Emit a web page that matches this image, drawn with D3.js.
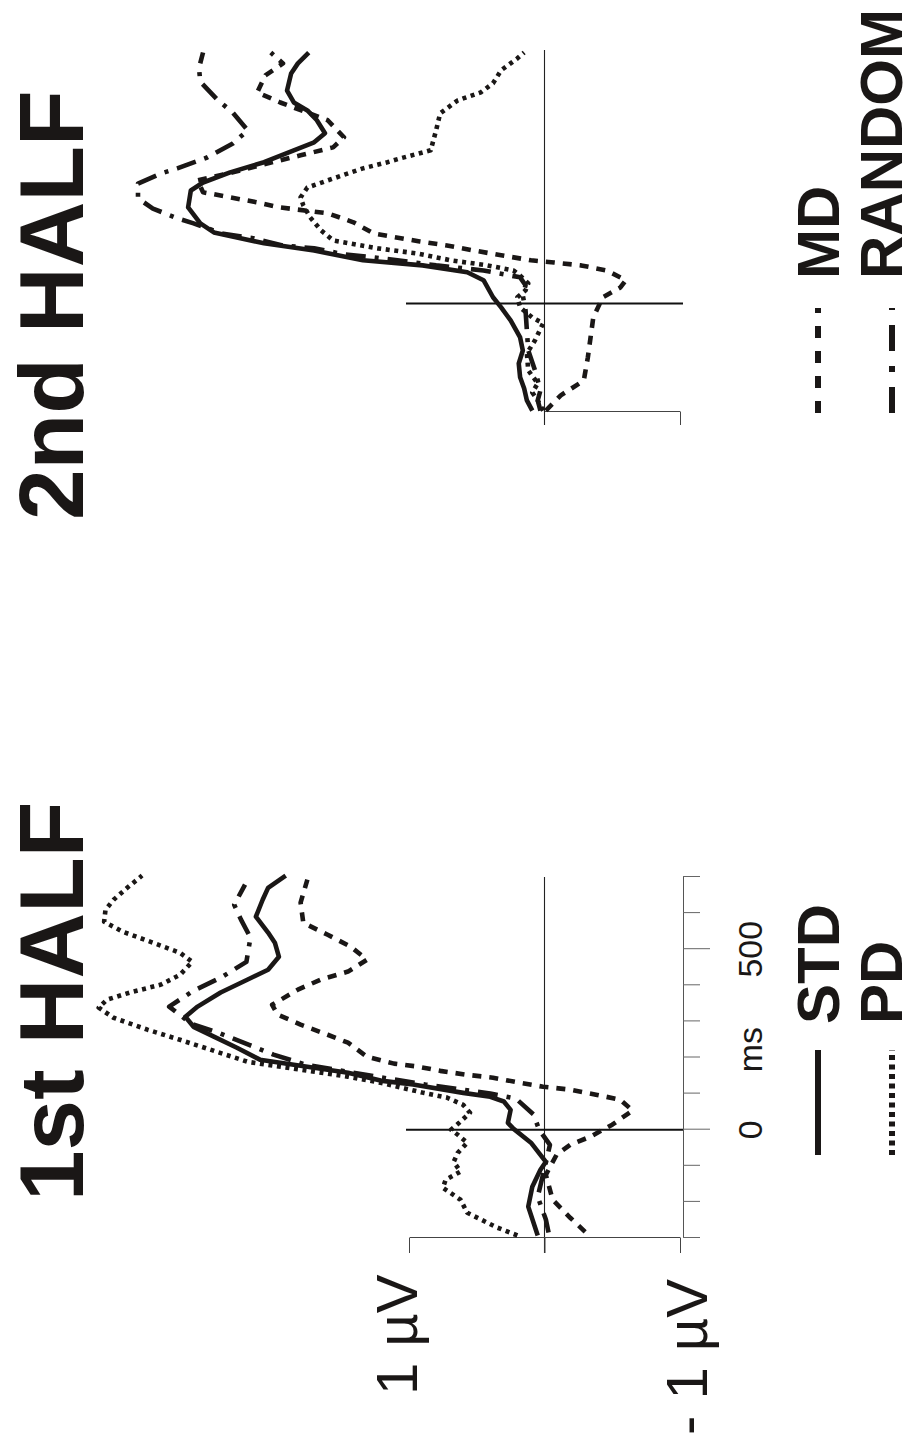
<!DOCTYPE html>
<html>
<head>
<meta charset="utf-8">
<script src="https://cdn.jsdelivr.net/npm/d3@7"></script>
<style>
  body { margin: 0; background: #fff; }
  svg { display: block; }
  text { font-family: Arial, "Liberation Sans", sans-serif; fill: #1a1716; }
</style>
</head>
<body>
<script>
// ERP waveforms, [ms, µV] pairs
const half1STD = [[-293,0.05],[-213,0.12],[-158,0.09],[-111,0.03],[-89,-0.01],[-36,0.10],[3,0.23],[19,0.27],[55,0.25],[78,0.30],[91,0.40],[102,0.60],[125,0.97],[136,1.21],[158,1.45],[194,2.10],[227,2.27],[258,2.44],[285,2.59],[313,2.65],[341,2.56],[380,2.39],[416,2.19],[443,2.04],[479,1.96],[518,1.99],[546,2.04],[590,2.13],[637,2.08],[670,2.04],[704,1.91]];
const half1PD = [[-293,0.20],[-271,0.35],[-230,0.57],[-194,0.62],[-161,0.75],[-139,0.73],[-116,0.62],[-89,0.67],[-64,0.64],[-36,0.57],[-14,0.64],[0,0.69],[19,0.63],[47,0.55],[69,0.60],[89,0.72],[102,0.89],[130,1.21],[147,1.45],[188,2.19],[249,2.69],[277,2.93],[310,3.18],[338,3.29],[360,3.23],[380,3.06],[402,2.83],[429,2.69],[465,2.60],[490,2.69],[518,2.89],[548,3.11],[576,3.25],[609,3.24],[637,3.18],[670,3.08],[704,2.97]];
const half1MD = [[-283,-0.30],[-244,-0.19],[-194,-0.06],[-125,-0.01],[-69,-0.09],[-42,-0.19],[-19,-0.34],[14,-0.50],[53,-0.65],[83,-0.56],[97,-0.38],[111,-0.19],[119,0.01],[130,0.18],[144,0.38],[152,0.57],[163,0.77],[175,0.94],[183,1.11],[202,1.31],[241,1.45],[263,1.60],[291,1.80],[319,1.97],[346,2.01],[388,1.82],[416,1.65],[438,1.45],[471,1.31],[507,1.43],[540,1.60],[573,1.78],[629,1.80],[693,1.75]];
const half1RND = [[-285,-0.03],[-249,-0.01],[-186,0.05],[-91,-0.01],[-42,-0.04],[0,0.04],[42,0.08],[86,0.21],[100,0.40],[125,0.88],[152,1.32],[180,1.76],[208,2.00],[235,2.18],[269,2.41],[294,2.61],[341,2.77],[385,2.59],[421,2.39],[465,2.20],[532,2.17],[582,2.24],[623,2.29],[679,2.21]];

const half2STD = [[-296,0.09],[-268,0.13],[-235,0.15],[-204,0.18],[-166,0.19],[-130,0.16],[-94,0.18],[-47,0.25],[-11,0.32],[17,0.38],[64,0.45],[86,0.57],[105,0.90],[119,1.34],[146,1.70],[166,2.07],[196,2.44],[221,2.54],[265,2.63],[312,2.61],[334,2.52],[362,2.32],[390,2.07],[423,1.85],[445,1.70],[470,1.62],[506,1.68],[533,1.75],[555,1.85],[588,1.90],[635,1.87],[663,1.82],[693,1.74]];
const half2PD = [[-296,0.01],[-268,0.05],[-246,0.09],[-221,0.05],[-185,0.12],[-138,0.13],[-102,0.07],[-55,0.01],[-39,0.09],[-11,0.18],[17,0.20],[36,0.14],[55,0.12],[77,0.18],[91,0.23],[105,0.42],[119,0.69],[138,0.94],[152,1.23],[174,1.56],[202,1.65],[238,1.73],[271,1.78],[293,1.80],[320,1.75],[345,1.56],[373,1.34],[390,1.16],[401,1.06],[423,0.84],[478,0.80],[525,0.77],[561,0.64],[583,0.47],[608,0.38],[644,0.32],[677,0.20],[693,0.15]];
const half2MD = [[-296,-0.01],[-254,-0.12],[-213,-0.29],[-149,-0.32],[-94,-0.34],[-39,-0.36],[17,-0.43],[44,-0.56],[64,-0.60],[91,-0.46],[105,-0.27],[113,-0.07],[119,0.10],[133,0.32],[146,0.52],[160,0.72],[171,0.92],[180,1.06],[193,1.26],[224,1.41],[249,1.60],[265,1.95],[279,2.12],[293,2.32],[307,2.52],[340,2.56],[362,2.30],[387,2.04],[409,1.80],[431,1.56],[459,1.48],[506,1.60],[555,1.95],[583,2.12],[630,2.06],[663,1.93],[693,2.02]];
const half2RND = [[-296,0.03],[-268,0.05],[-240,0.03],[-185,0.07],[-130,0.12],[-75,0.13],[-19,0.14],[22,0.16],[50,0.14],[72,0.18],[91,0.45],[105,0.80],[115,1.00],[127,1.26],[135,1.47],[152,1.70],[160,1.93],[180,2.15],[192,2.37],[221,2.59],[235,2.71],[262,2.89],[290,3.00],[331,3.00],[359,2.83],[373,2.71],[403,2.49],[442,2.30],[478,2.19],[527,2.30],[561,2.41],[612,2.54],[650,2.55],[693,2.52]];

const timeTicks = d3.range(-300, 701, 100);
const timeLabels = [[0, "0"], [222, "ms"], [500, "500"]];
const panelTitles = ["1st HALF", "2nd HALF"];
const legendNames = [["STD", "PD"], ["MD", "RANDOM"]];

const ink = "#1a1716";
const styles = {
    STD: { dash: null, width: 4.6 },
    PD: { dash: "4,4.6", width: 4.6 },
    MD: { dash: "9,8", width: 4.6 },
    RANDOM: { dash: "20,9,4,9", width: 4.6 }
};

const svg = d3.select("body").append("svg")
    .attr("width", 914)
    .attr("height", 1439);

// the whole figure is laid out landscape and turned a quarter to the left
const fig = svg.append("g").attr("transform", "translate(0,1439) rotate(-90)");

const y = d3.scaleLinear().domain([1, -1]).range([409, 680]);
const x1 = d3.scaleLinear().domain([-300, 700]).range([201, 562]);
const x2 = d3.scaleLinear().domain([-300, 700]).range([1027, 1389]);

function drawWaves(g, x, list) {
    const line = d3.line()
        .x(d => x(d[0]))
        .y(d => y(d[1]));
    list.forEach(([name, data]) => {
        const st = styles[name];
        g.append("path")
            .datum(data)
            .attr("d", line)
            .attr("fill", "none")
            .attr("stroke", ink)
            .attr("stroke-width", st.width)
            .attr("stroke-linejoin", "round")
            .attr("stroke-dasharray", st.dash);
    });
}

// ---------- panel 1 ----------
const p1 = fig.append("g");

p1.append("line")
    .attr("x1", x1(-300) - 15).attr("x2", x1(700))
    .attr("y1", y(0)).attr("y2", y(0))
    .attr("stroke", "#222").attr("stroke-width", 1.1);

p1.append("line")
    .attr("x1", x1(0)).attr("x2", x1(0))
    .attr("y1", y(1) - 3).attr("y2", y(-1) + 3)
    .attr("stroke", "#111").attr("stroke-width", 2);

const tAxis = p1.append("g")
    .attr("transform", `translate(0,${y(-1) + 3})`)
    .call(d3.axisBottom(x1).tickValues(timeTicks).tickSize(17).tickSizeOuter(0).tickFormat(""));
tAxis.select(".domain").attr("stroke", "#555");
tAxis.selectAll(".tick line")
    .attr("stroke", "#666")
    .attr("y2", d => (d === 0 || d === 500) ? 27 : 17);

const vAxis1 = p1.append("g")
    .attr("transform", `translate(${x1(-300)},0)`)
    .call(d3.axisLeft(y).tickValues([1, 0, -1]).tickSize(15).tickSizeOuter(0).tickFormat(""));
vAxis1.selectAll("path, line").attr("stroke", "#444");

p1.selectAll(".tlabel")
    .data(timeLabels)
    .enter().append("text")
    .attr("class", "tlabel")
    .attr("x", d => x1(d[0]))
    .attr("y", 762)
    .attr("text-anchor", "middle")
    .attr("font-size", 34)
    .text(d => d[1]);

drawWaves(p1, x1, [["PD", half1PD], ["MD", half1MD], ["RANDOM", half1RND], ["STD", half1STD]]);

// ---------- panel 2 ----------
const p2 = fig.append("g");

p2.append("line")
    .attr("x1", x2(-300) - 13).attr("x2", x2(700))
    .attr("y1", y(0)).attr("y2", y(0))
    .attr("stroke", "#222").attr("stroke-width", 1.1);

p2.append("line")
    .attr("x1", x2(0)).attr("x2", x2(0))
    .attr("y1", y(1) - 3).attr("y2", y(-1) + 3)
    .attr("stroke", "#111").attr("stroke-width", 2);

const yLower = d3.scaleLinear().domain([0, -1]).range([y(0), y(-1)]);
const vAxis2 = p2.append("g")
    .attr("transform", `translate(${x2(-300)},0)`)
    .call(d3.axisLeft(yLower).tickValues([-1]).tickSize(13).tickSizeOuter(0).tickFormat(""));
vAxis2.selectAll("path, line").attr("stroke", "#444");

drawWaves(p2, x2, [["PD", half2PD], ["MD", half2MD], ["RANDOM", half2RND], ["STD", half2STD]]);

// ---------- titles ----------
fig.selectAll(".title")
    .data(panelTitles)
    .enter().append("text")
    .attr("class", "title")
    .attr("x", (d, i) => i === 0 ? 238 : 919)
    .attr("y", 83)
    .attr("font-size", 91)
    .attr("font-weight", "bold")
    .text(d => d);

// ---------- µV labels ----------
fig.append("text").attr("x", 44).attr("y", 417).attr("font-size", 58).text("1 µV");
fig.append("text").attr("x", 4).attr("y", 707).attr("font-size", 58).text("- 1 µV");

// ---------- legends ----------
const legendLeft = [284, 1026];
const legendText = [415, 1160];
const rowLine = [818, 892];
const rowBase = [839, 902];

legendNames.forEach((names, p) => {
    names.forEach((name, r) => {
        fig.append("line")
            .attr("x1", legendLeft[p]).attr("x2", legendLeft[p] + 105)
            .attr("y1", rowLine[r]).attr("y2", rowLine[r])
            .attr("stroke", ink)
            .attr("stroke-width", 6)
            .attr("stroke-dasharray", name === "STD" ? null :
                name === "PD" ? "5,4.5" : name === "MD" ? "12,13" : "26,15,6,15");
        fig.append("text")
            .attr("x", legendText[p])
            .attr("y", rowBase[r])
            .attr("font-size", 60)
            .attr("font-weight", "bold")
            .text(name);
    });
});
</script>
</body>
</html>
